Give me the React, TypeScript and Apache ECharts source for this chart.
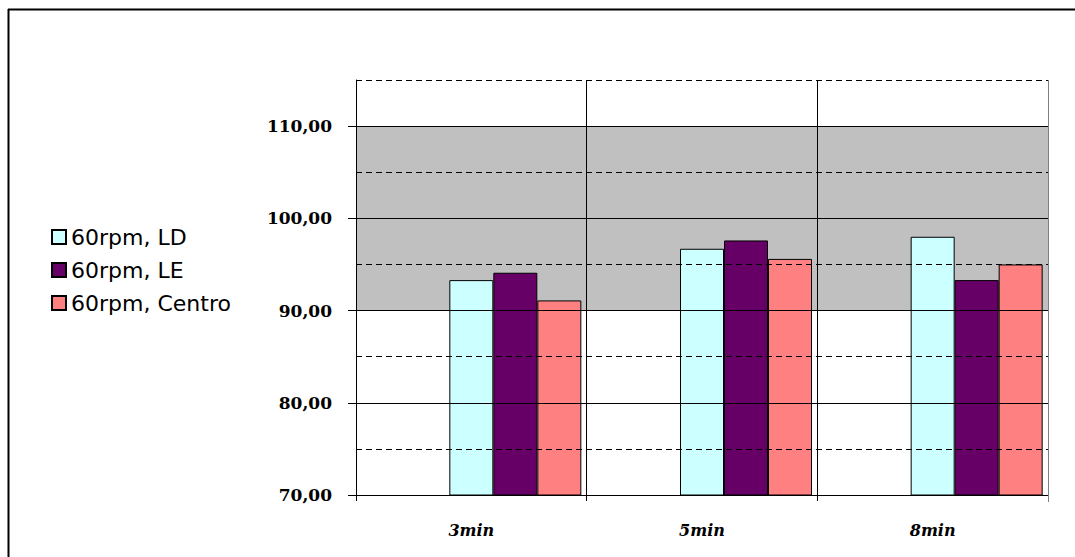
import React, { useEffect, useRef } from "react";
import * as echarts from "echarts";

// Times after start of the test
const categories = ["3min", "5min", "8min"];

// Measured values per position
const seriesNames = ["60rpm, LD", "60rpm, LE", "60rpm, Centro"];
const valuesLD = [93.3, 96.7, 98.0];
const valuesLE = [94.1, 97.6, 93.3];
const valuesCentro = [91.1, 95.6, 95.0];
const seriesColors = ["#ccffff", "#660066", "#ff8080"];

// Axis range and grid lines
const yMin = 70;
const yMax = 115;
const yStep = 10;
const majorLines = [80, 90, 100, 110];
const minorLines = [75, 85, 95, 105, 115];
const labelValues = [70, 80, 90, 100, 110];

const fmt = (v: number) => v.toFixed(2).replace(".", ",");

export default function App() {
  const ref = useRef<HTMLDivElement>(null);

  useEffect(() => {
    document.body.style.margin = "0";
    if (!ref.current) return;
    const chart = echarts.init(ref.current, null, { renderer: "svg" });

    const spacer = (name: string) => ({
      name,
      type: "bar" as const,
      data: categories.map(() => "-"),
      barWidth: 44,
      barGap: "0%",
      silent: true,
    });

    const values = [valuesLD, valuesLE, valuesCentro];

    chart.setOption({
      animation: false,
      backgroundColor: "#ffffff",
      graphic: [
        {
          type: "line",
          shape: { x1: 8, y1: 9.5, x2: 1075, y2: 9.5 },
          style: { stroke: "#000", lineWidth: 2 },
        },
        {
          type: "line",
          shape: { x1: 8.5, y1: 9, x2: 8.5, y2: 557 },
          style: { stroke: "#000", lineWidth: 2 },
        },
        {
          type: "line",
          z: 10,
          shape: { x1: 1048.5, y1: 80, x2: 1048.5, y2: 502 },
          style: { stroke: "#808080", lineWidth: 1 },
        },
      ],
      legend: {
        data: seriesNames,
        orient: "vertical",
        left: 51,
        top: 226,
        padding: 0,
        itemGap: 11,
        itemWidth: 14,
        itemHeight: 14,
        icon: "rect",
        textStyle: {
          fontFamily: "DejaVu Sans",
          fontSize: 22,
          lineHeight: 22,
          color: "#000",
        },
      },
      grid: { left: 356, right: 27, top: 80, bottom: 62 },
      xAxis: {
        type: "category",
        data: categories,
        axisLine: { lineStyle: { color: "#000", width: 1 } },
        axisTick: { show: true, length: 6, lineStyle: { color: "#000" } },
        splitLine: { show: true, lineStyle: { color: "#000", width: 1 } },
        axisLabel: {
          margin: 27,
          fontFamily: "DejaVu Serif",
          fontWeight: "bold",
          fontStyle: "italic",
          fontSize: 16,
          color: "#000",
        },
      },
      yAxis: {
        type: "value",
        min: yMin,
        max: yMax,
        interval: yStep,
        axisLine: { show: true, lineStyle: { color: "#000", width: 1 } },
        axisTick: {
          show: true,
          length: 8,
          lineStyle: { color: "#000", width: 1 },
          customValues: labelValues,
        },
        splitLine: { show: false },
        splitArea: {
          show: true,
          areaStyle: {
            color: ["#ffffff", "#ffffff", "#c0c0c0", "#c0c0c0", "#ffffff"],
          },
        },
        axisLabel: {
          margin: 24,
          customValues: labelValues,
          formatter: (v: number) => (labelValues.includes(v) ? fmt(v) : ""),
          fontFamily: "DejaVu Serif",
          fontWeight: "bold",
          fontSize: 17,
          color: "#000",
        },
      },
      series: [
        {
          name: "grid lines",
          type: "line",
          data: categories.map(() => "-"),
          z: 1,
          silent: true,
          markLine: {
            silent: true,
            symbol: ["none", "none"],
            label: { show: false },
            animation: false,
            data: [
              ...majorLines.map((v) => ({
                yAxis: v,
                lineStyle: { color: "#000", width: 1, type: "solid" },
              })),
              ...minorLines.map((v) => ({
                yAxis: v,
                lineStyle: { color: "#000", width: 1.2, type: [6, 4] },
              })),
            ],
          },
        },
        spacer("spacer a"),
        spacer("spacer b"),
        ...seriesNames.map((name, i) => ({
          name,
          type: "bar" as const,
          data: values[i],
          barWidth: 44,
          barGap: "0%",
          z: 3,
          itemStyle: {
            color: seriesColors[i],
            borderColor: "#000",
            borderWidth: 1,
          },
        })),
      ],
    });

    return () => chart.dispose();
  }, []);

  return <div ref={ref} style={{ width: 1075, height: 557 }} />;
}
